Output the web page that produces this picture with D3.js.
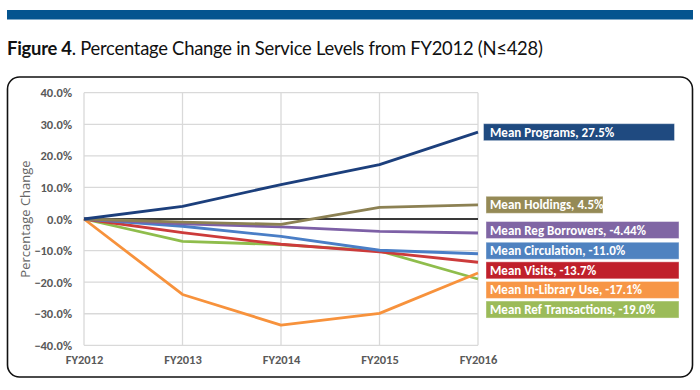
<!DOCTYPE html>
<html>
<head>
<meta charset="utf-8">
<script src="https://cdn.jsdelivr.net/npm/d3@7"></script>
<style>
  body { margin: 0; background: #fff; }
  svg { display: block; }
</style>
</head>
<body>
<div id="chart"></div>
<script>
// categories and series (percentage change from FY2012)
var years = ["FY2012", "FY2013", "FY2014", "FY2015", "FY2016"];
var yTicks = [-40, -30, -20, -10, 0, 10, 20, 30, 40];

var seriesNames = ["Mean Programs", "Mean Holdings", "Mean Reg Borrowers", "Mean Circulation",
  "Mean Visits", "Mean In-Library Use", "Mean Ref Transactions"];
var endLabels = ["27.5%", "4.5%", "-4.44%", "-11.0%", "-13.7%", "-17.1%", "-19.0%"];

var programs     = [0, 4.0, 10.9, 17.2, 27.5];
var holdings     = [0, -1.0, -1.7, 3.7, 4.5];
var regBorrowers = [0, -1.5, -2.5, -3.9, -4.44];
var circulation  = [0, -2.3, -5.5, -9.9, -11.0];
var visits       = [0, -4.3, -8.0, -10.4, -13.7];
var inLibrary    = [0, -23.9, -33.6, -29.9, -17.1];
var refTrans     = [0, -7.1, -8.1, -10.1, -19.0];

var lineColors = ["#1c3f7c", "#8c8153", "#7d60a6", "#4a7ec6", "#cc3b3b", "#f7923c", "#8fbd4c"];
var boxColors  = ["#1f4a80", "#958a56", "#8066a4", "#4f82c0", "#c0202b", "#f79646", "#9bbb59"];

var allSeries = [programs, holdings, regBorrowers, circulation, visits, inLibrary, refTrans];

var W = 700, H = 390;
var svg = d3.select("#chart").append("svg")
  .attr("width", W).attr("height", H);

// top banner bar
svg.append("rect").attr("x", 7).attr("y", 10).attr("width", 686).attr("height", 9.5)
  .attr("fill", "#04548f");

// title
var title = svg.append("text").attr("x", 7).attr("y", 55)
  .attr("font-family", "Lato, 'Noto Sans', sans-serif").attr("font-size", 18.4)
  .attr("letter-spacing", -0.25).attr("fill", "#111");
title.append("tspan").attr("font-weight", "bold").text("Figure 4");
title.append("tspan").text(". Percentage Change in Service Levels from FY2012 (N\u2264428)");

// frame
svg.append("rect").attr("x", 7.5).attr("y", 77).attr("width", 685).attr("height", 300)
  .attr("rx", 12).attr("fill", "none").attr("stroke", "#111").attr("stroke-width", 1.6);

var margin = {left: 84, top: 92.7, right: 478, bottom: 345.3};

var x = d3.scalePoint()
  .domain(years)
  .range([margin.left, margin.right]);

var y = d3.scaleLinear()
  .domain([-40, 40])
  .range([margin.bottom, margin.top]);

var font = "Calibri, Carlito, 'Open Sans', sans-serif";

// horizontal gridlines
svg.append("g")
  .selectAll("line")
  .data(yTicks)
  .enter()
  .append("line")
  .attr("x1", margin.left).attr("x2", margin.right)
  .attr("y1", function(d){ return y(d) }).attr("y2", function(d){ return y(d) })
  .attr("stroke", "#d9d9d9").attr("stroke-width", 1.3);

// vertical gridlines
svg.append("g")
  .selectAll("line")
  .data(years)
  .enter()
  .append("line")
  .attr("x1", function(d){ return x(d) }).attr("x2", function(d){ return x(d) })
  .attr("y1", margin.top).attr("y2", margin.bottom)
  .attr("stroke", "#d9d9d9").attr("stroke-width", 1.3);

// zero line
svg.append("line")
  .attr("x1", margin.left).attr("x2", margin.right)
  .attr("y1", y(0)).attr("y2", y(0))
  .attr("stroke", "#000").attr("stroke-width", 1.4);

// y axis labels
var yAxis = svg.append("g")
  .attr("transform", "translate(" + (margin.left - 12) + ",0)")
  .call(d3.axisLeft(y).tickValues(yTicks).tickSize(0).tickPadding(0)
    .tickFormat(function(d){ return d3.format(".1f")(d) + "%" }));
yAxis.select(".domain").remove();
yAxis.selectAll("text")
  .attr("font-family", font).attr("font-size", 12.5).attr("font-weight", "bold").attr("fill", "#595959");

// x axis labels
var xAxis = svg.append("g")
  .attr("transform", "translate(0," + (margin.bottom + 10) + ")")
  .call(d3.axisBottom(x).tickSize(0).tickPadding(0));
xAxis.select(".domain").remove();
xAxis.selectAll("text")
  .attr("font-family", font).attr("font-size", 12.5).attr("font-weight", "bold").attr("fill", "#595959");

// y axis title
svg.append("text")
  .attr("transform", "translate(30," + y(0) + ") rotate(-90)")
  .attr("text-anchor", "middle")
  .attr("font-family", "'Open Sans', sans-serif").attr("font-size", 13).attr("fill", "#666")
  .text("Percentage Change");

// lines
var line = d3.line()
  .x(function(d, i){ return x(years[i]) })
  .y(function(d){ return y(d) });

// draw order: lowest visual priority first
var drawOrder = [6, 5, 4, 3, 2, 1, 0];
svg.append("g")
  .selectAll("path")
  .data(drawOrder)
  .enter()
  .append("path")
  .attr("d", function(k){ return line(allSeries[k]) })
  .attr("fill", "none")
  .attr("stroke", function(k){ return lineColors[k] })
  .attr("stroke-width", 2.8)
  .attr("stroke-linejoin", "round");

// end labels, pushed apart so they don't overlap
var gap = 19.6;
var labelY = allSeries.map(function(s){ return y(s[s.length - 1]) });
var order = d3.range(allSeries.length).sort(function(a, b){ return labelY[a] - labelY[b] });
for (var i = 1; i < order.length; i++) {
  var prev = labelY[order[i - 1]];
  if (labelY[order[i]] < prev + gap) labelY[order[i]] = prev + gap;
}
// lift the crowded bottom group a little
for (var j = 2; j < order.length; j++) labelY[order[j]] -= 3;

var boxRight = [677, 603, 679, 679, 679, 679, 679];
var labels = svg.append("g")
  .selectAll("g")
  .data(d3.range(allSeries.length))
  .enter()
  .append("g")
  .attr("transform", function(k){ return "translate(486," + labelY[k] + ")" });

labels.append("rect")
  .attr("x", function(k){ return k == 0 ? -2.5 : 0 })
  .attr("y", -8.5)
  .attr("width", function(k){ return boxRight[k] - 486 })
  .attr("height", 17)
  .attr("fill", function(k){ return boxColors[k] })
  .attr("stroke", "#fff").attr("stroke-opacity", 0.4);

labels.append("text")
  .attr("x", 4).attr("y", 4.5)
  .attr("font-family", font).attr("font-size", 13).attr("font-weight", "bold").attr("fill", "#fff")
  .text(function(k){ return seriesNames[k] + ", " + endLabels[k] });
</script>
</body>
</html>
